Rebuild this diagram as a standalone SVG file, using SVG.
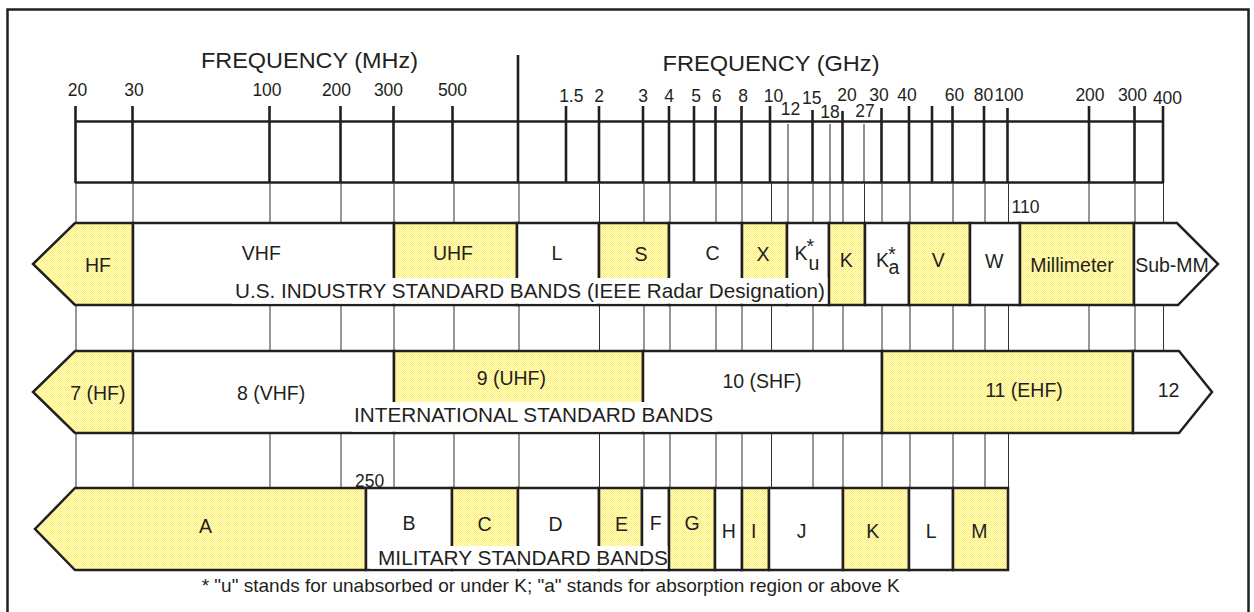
<svg xmlns="http://www.w3.org/2000/svg" width="1254" height="612" viewBox="0 0 1254 612">
<defs>
<pattern id="ydots" width="2" height="2" patternUnits="userSpaceOnUse">
<rect width="2" height="2" fill="#fffbd2"/>
<rect x="0" y="0" width="1" height="1" fill="#fff06e"/>
<rect x="1" y="1" width="1" height="1" fill="#fff06e"/>
</pattern>
<style>
text{font-family:"Liberation Sans",Arial,sans-serif;fill:#231f20}
.tick{stroke:#231f20;stroke-width:2.6}
.thin{stroke:#231f20;stroke-width:1}
.grid line{stroke:#333;stroke-width:1}
.y{fill:url(#ydots);stroke:#231f20;stroke-width:2.5}
.w{fill:#fff;stroke:#231f20;stroke-width:2.5}
.lab{font-size:19.5px;text-anchor:middle}
.sub{font-size:19.5px}
.num{font-size:17.5px;text-anchor:middle}
.title{font-size:20.6px}
.head{font-size:22px}
.bg{fill:#fff;stroke:none}
</style>
</defs>
<rect x="0" y="0" width="1254" height="612" fill="#fff"/>
<rect x="7.5" y="9.5" width="1241" height="620" fill="#fff" stroke="#231f20" stroke-width="2.5"/>

<g id="scale">
<text class="head" x="201" y="67.7" textLength="217" lengthAdjust="spacingAndGlyphs">FREQUENCY (MHz)</text>
<text class="head" x="662.5" y="70.7" textLength="217" lengthAdjust="spacingAndGlyphs">FREQUENCY (GHz)</text>
<line class="tick" x1="75" y1="121.5" x2="1164" y2="121.5"/>
<line class="tick" x1="75" y1="182.5" x2="1164" y2="182.5" stroke-width="3"/>
<line class="tick" x1="75.5" y1="106" x2="75.5" y2="183"/>
<line class="tick" x1="132.5" y1="106" x2="132.5" y2="183"/>
<line class="tick" x1="269.5" y1="106" x2="269.5" y2="183"/>
<line class="tick" x1="340.5" y1="106" x2="340.5" y2="183"/>
<line class="tick" x1="393.5" y1="106" x2="393.5" y2="183"/>
<line class="tick" x1="452.5" y1="106" x2="452.5" y2="183"/>
<line class="tick" x1="518" y1="55" x2="518" y2="183"/>
<line class="tick" x1="566" y1="106" x2="566" y2="183"/>
<line class="tick" x1="599" y1="106" x2="599" y2="183"/>
<line class="tick" x1="643" y1="106" x2="643" y2="183"/>
<line class="tick" x1="669" y1="106" x2="669" y2="183"/>
<line class="tick" x1="694" y1="106" x2="694" y2="183"/>
<line class="tick" x1="715.5" y1="106" x2="715.5" y2="183"/>
<line class="tick" x1="741.5" y1="106" x2="741.5" y2="183"/>
<line class="tick" x1="770" y1="106" x2="770" y2="183"/>
<line class="tick" x1="812.5" y1="110" x2="812.5" y2="183"/>
<line class="tick" x1="842.5" y1="111" x2="842.5" y2="183"/>
<line class="tick" x1="881.5" y1="108" x2="881.5" y2="183"/>
<line class="tick" x1="909" y1="106" x2="909" y2="183"/>
<line class="tick" x1="932" y1="106" x2="932" y2="183"/>
<line class="tick" x1="952.5" y1="106" x2="952.5" y2="183"/>
<line class="tick" x1="984" y1="106" x2="984" y2="183"/>
<line class="tick" x1="1007.5" y1="108" x2="1007.5" y2="183"/>
<line class="tick" x1="1089" y1="106" x2="1089" y2="183"/>
<line class="tick" x1="1134.5" y1="106" x2="1134.5" y2="183"/>
<line class="tick" x1="1163" y1="106" x2="1163" y2="183"/>
<line class="thin" x1="788" y1="124" x2="788" y2="182"/>
<line class="thin" x1="830" y1="124" x2="830" y2="182"/>
<line class="thin" x1="864" y1="124" x2="864" y2="182"/>
<text class="num" x="77.5" y="96">20</text>
<text class="num" x="134" y="96">30</text>
<text class="num" x="267" y="96">100</text>
<text class="num" x="336.5" y="96">200</text>
<text class="num" x="388.5" y="96">300</text>
<text class="num" x="452.5" y="96">500</text>
<text class="num" x="571.3" y="102">1.5</text>
<text class="num" x="599" y="102">2</text>
<text class="num" x="643" y="102">3</text>
<text class="num" x="669" y="102">4</text>
<text class="num" x="696" y="102">5</text>
<text class="num" x="716.5" y="102">6</text>
<text class="num" x="743" y="102">8</text>
<text class="num" x="773.5" y="102">10</text>
<text class="num" x="790.5" y="115">12</text>
<text class="num" x="811.7" y="104">15</text>
<text class="num" x="830" y="118">18</text>
<text class="num" x="847" y="101">20</text>
<text class="num" x="865" y="117">27</text>
<text class="num" x="879" y="101">30</text>
<text class="num" x="907" y="101">40</text>
<text class="num" x="954.5" y="101">60</text>
<text class="num" x="983.5" y="101">80</text>
<text class="num" x="1009" y="101">100</text>
<text class="num" x="1090" y="101">200</text>
<text class="num" x="1132.5" y="101">300</text>
<text class="num" x="1167.5" y="104">400</text>
<text class="num" x="1025.5" y="213">110</text>
<text class="num" x="369.7" y="487">250</text>
</g>

<g id="connectors" class="grid">
<line x1="76" y1="183" x2="76" y2="223"/><line x1="133" y1="183" x2="133" y2="223"/><line x1="270" y1="183" x2="270" y2="223"/><line x1="341" y1="183" x2="341" y2="223"/><line x1="394" y1="183" x2="394" y2="223"/><line x1="454" y1="183" x2="454" y2="223"/><line x1="519" y1="183" x2="519" y2="223"/><line x1="599.5" y1="183" x2="599.5" y2="223"/><line x1="644" y1="183" x2="644" y2="223"/><line x1="670" y1="183" x2="670" y2="223"/><line x1="716" y1="183" x2="716" y2="223"/><line x1="742" y1="183" x2="742" y2="223"/><line x1="771.5" y1="183" x2="771.5" y2="223"/><line x1="788" y1="183" x2="788" y2="223"/><line x1="813" y1="183" x2="813" y2="223"/><line x1="830" y1="183" x2="830" y2="223"/><line x1="843" y1="183" x2="843" y2="223"/><line x1="864.5" y1="183" x2="864.5" y2="223"/><line x1="882" y1="183" x2="882" y2="223"/><line x1="910" y1="183" x2="910" y2="223"/><line x1="953" y1="183" x2="953" y2="223"/><line x1="985" y1="183" x2="985" y2="223"/><line x1="1008.5" y1="183" x2="1008.5" y2="223"/><line x1="1089" y1="183" x2="1089" y2="223"/><line x1="1135" y1="183" x2="1135" y2="223"/><line x1="1163.5" y1="183" x2="1163.5" y2="223"/>
<line x1="76" y1="305" x2="76" y2="351"/><line x1="133" y1="305" x2="133" y2="351"/><line x1="270" y1="305" x2="270" y2="351"/><line x1="341" y1="305" x2="341" y2="351"/><line x1="394" y1="305" x2="394" y2="351"/><line x1="454" y1="305" x2="454" y2="351"/><line x1="519" y1="305" x2="519" y2="351"/><line x1="599.5" y1="305" x2="599.5" y2="351"/><line x1="644" y1="305" x2="644" y2="351"/><line x1="670" y1="305" x2="670" y2="351"/><line x1="716" y1="305" x2="716" y2="351"/><line x1="742" y1="305" x2="742" y2="351"/><line x1="771.5" y1="305" x2="771.5" y2="351"/><line x1="813" y1="305" x2="813" y2="351"/><line x1="843" y1="305" x2="843" y2="351"/><line x1="882" y1="305" x2="882" y2="351"/><line x1="910" y1="305" x2="910" y2="351"/><line x1="953" y1="305" x2="953" y2="351"/><line x1="985" y1="305" x2="985" y2="351"/><line x1="1008.5" y1="305" x2="1008.5" y2="351"/><line x1="1089" y1="305" x2="1089" y2="351"/><line x1="1135" y1="305" x2="1135" y2="351"/><line x1="1163.5" y1="305" x2="1163.5" y2="351"/>
<line x1="76" y1="433" x2="76" y2="488"/><line x1="133" y1="433" x2="133" y2="488"/><line x1="270" y1="433" x2="270" y2="488"/><line x1="341" y1="433" x2="341" y2="488"/><line x1="394" y1="433" x2="394" y2="488"/><line x1="454" y1="433" x2="454" y2="488"/><line x1="519" y1="433" x2="519" y2="488"/><line x1="599.5" y1="433" x2="599.5" y2="488"/><line x1="644" y1="433" x2="644" y2="488"/><line x1="670" y1="433" x2="670" y2="488"/><line x1="716" y1="433" x2="716" y2="488"/><line x1="742" y1="433" x2="742" y2="488"/><line x1="771.5" y1="433" x2="771.5" y2="488"/><line x1="813" y1="433" x2="813" y2="488"/><line x1="843" y1="433" x2="843" y2="488"/><line x1="882" y1="433" x2="882" y2="488"/><line x1="910" y1="433" x2="910" y2="488"/><line x1="953" y1="433" x2="953" y2="488"/><line x1="985" y1="433" x2="985" y2="488"/><line x1="1008.5" y1="433" x2="1008.5" y2="488"/>
</g>

<g id="row-ieee">
<g id="ieee-hf"><polygon class="y" points="133,223 75,223 33,264 75,305 133,305"/><text class="lab" x="98" y="272">HF</text></g>
<g id="ieee-vhf"><rect class="w" x="133" y="223" width="261" height="82"/><text class="lab" x="261.3" y="260">VHF</text></g>
<g id="ieee-uhf"><rect class="y" x="394" y="223" width="123" height="82"/><text class="lab" x="453" y="260">UHF</text></g>
<g id="ieee-l"><rect class="w" x="517" y="223" width="82" height="82"/><text class="lab" x="557" y="260">L</text></g>
<g id="ieee-s"><rect class="y" x="599" y="223" width="70" height="82"/><text class="lab" x="641" y="260.5">S</text></g>
<g id="ieee-c"><rect class="w" x="669" y="223" width="73" height="82"/><text class="lab" x="712.5" y="260">C</text></g>
<g id="ieee-x"><rect class="y" x="742" y="223" width="45" height="82"/><text class="lab" x="763" y="260.5">X</text></g>
<g id="ieee-ku"><rect class="w" x="787" y="223" width="42" height="82"/><text class="sub" x="794.5" y="260">K<tspan dx="-1" dy="-7">*</tspan><tspan dx="-5.5" dy="17">u</tspan></text></g>
<g id="ieee-k"><rect class="y" x="829" y="223" width="36" height="82"/><text class="lab" x="846.3" y="267">K</text></g>
<g id="ieee-ka"><rect class="w" x="865" y="223" width="44" height="82"/><text class="sub" x="876" y="267">K<tspan dx="-0.7" dy="-6.5">*</tspan><tspan dx="-7.4" dy="13.5">a</tspan></text></g>
<g id="ieee-v"><rect class="y" x="909" y="223" width="61" height="82"/><text class="lab" x="938.3" y="267">V</text></g>
<g id="ieee-w"><rect class="w" x="970" y="223" width="50" height="82"/><text class="lab" x="994.2" y="268">W</text></g>
<g id="ieee-mm"><rect class="y" x="1020" y="223" width="114" height="82"/><text class="lab" x="1072" y="272">Millimeter</text></g>
<g id="ieee-submm"><polygon class="w" points="1134,223 1177,223 1218,264 1178,305 1134,305"/><text class="lab" x="1172" y="272">Sub-MM</text></g>
<rect class="bg" x="232" y="278" width="595.5" height="25.7"/>
<text class="title" x="235" y="298" textLength="590" lengthAdjust="spacingAndGlyphs">U.S. INDUSTRY STANDARD BANDS (IEEE Radar Designation)</text>
</g>

<g id="row-itu">
<g id="itu-7"><polygon class="y" points="133,351 75,351 33,392 75,433 133,433"/></g>
<g id="itu-8"><rect class="w" x="133" y="351" width="261" height="82"/><text class="lab" x="271" y="400">8 (VHF)</text></g>
<g id="itu-9"><rect class="y" x="394" y="351" width="249" height="82"/><text class="lab" x="511.3" y="384.5">9 (UHF)</text></g>
<g id="itu-10"><rect class="w" x="643" y="351" width="239" height="82"/><text class="lab" x="762" y="387.5">10 (SHF)</text></g>
<g id="itu-11"><rect class="y" x="882" y="351" width="251" height="82"/><text class="lab" x="1024" y="397">11 (EHF)</text></g>
<g id="itu-12"><polygon class="w" points="1133,351 1179,351 1212,392 1179,433 1133,433"/><text class="lab" x="1168.5" y="397">12</text></g>
<text class="lab" x="97.8" y="400">7 (HF)</text>
<rect class="bg" x="352" y="402" width="364" height="29.7"/>
<text class="title" x="354" y="421.7" textLength="359" lengthAdjust="spacingAndGlyphs">INTERNATIONAL STANDARD BANDS</text>
</g>

<g id="row-mil">
<g id="mil-a"><polygon class="y" points="366,488 75,488 35,529 75,570 366,570"/><text class="lab" x="205.5" y="533">A</text></g>
<g id="mil-b"><rect class="w" x="366" y="488" width="86" height="82"/><text class="lab" x="409" y="530">B</text></g>
<g id="mil-c"><rect class="y" x="452" y="488" width="66" height="82"/><text class="lab" x="484.5" y="530.7">C</text></g>
<g id="mil-d"><rect class="w" x="518" y="488" width="81" height="82"/><text class="lab" x="555.5" y="530.7">D</text></g>
<g id="mil-e"><rect class="y" x="599" y="488" width="43" height="82"/><text class="lab" x="621.5" y="530.7">E</text></g>
<g id="mil-f"><rect class="w" x="642" y="488" width="27" height="82"/><text class="lab" x="655.7" y="530">F</text></g>
<g id="mil-g"><rect class="y" x="669" y="488" width="46" height="82"/><text class="lab" x="692" y="530">G</text></g>
<g id="mil-h"><rect class="w" x="715" y="488" width="27" height="82"/><text class="lab" x="728.8" y="538">H</text></g>
<g id="mil-i"><rect class="y" x="742" y="488" width="27" height="82"/><text class="lab" x="753.8" y="538">I</text></g>
<g id="mil-j"><rect class="w" x="769" y="488" width="74" height="82"/><text class="lab" x="801.7" y="538">J</text></g>
<g id="mil-k"><rect class="y" x="843" y="488" width="66" height="82"/><text class="lab" x="872.8" y="538">K</text></g>
<g id="mil-l"><rect class="w" x="909" y="488" width="44" height="82"/><text class="lab" x="931.3" y="538">L</text></g>
<g id="mil-m"><rect class="y" x="953" y="488" width="55" height="82"/><text class="lab" x="979.3" y="538">M</text></g>
<rect class="bg" x="370" y="546" width="297.5" height="22.7"/>
<text class="title" x="378" y="565" textLength="290" lengthAdjust="spacingAndGlyphs">MILITARY STANDARD BANDS</text>
</g>

<text id="footnote" x="201.7" y="592" font-size="19" textLength="698" lengthAdjust="spacingAndGlyphs">* "u" stands for unabsorbed or under K; "a" stands for absorption region or above K</text>
</svg>
